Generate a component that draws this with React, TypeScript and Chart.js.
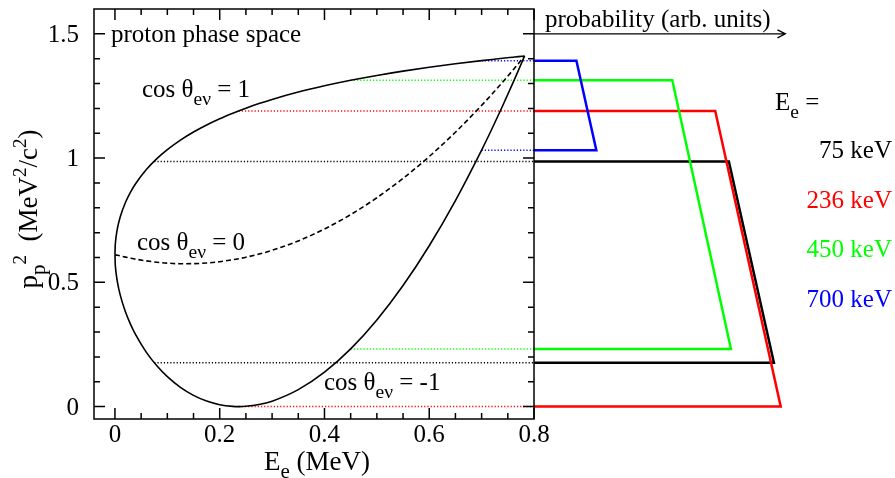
import React, { useEffect, useRef } from 'react';
import { Chart, registerables } from 'chart.js';

Chart.register(...registerables);

// Electron kinetic energy E_e (MeV) sampled along the phase-space boundary
const electronEnergy = [0, 0.0005, 0.001, 0.002, 0.005, 0.01, 0.02, 0.03, 0.04, 0.06, 0.08, 0.1, 0.125, 0.15, 0.175, 0.2, 0.225, 0.236, 0.25, 0.275, 0.3, 0.35, 0.4, 0.45, 0.5, 0.55, 0.6, 0.65, 0.7, 0.72, 0.74, 0.76, 0.77, 0.782];
// p_p^2 (MeV^2/c^2) for cos θ_eν = 1
const p2CosPlus = [0.6115, 0.6466, 0.6609, 0.681, 0.7202, 0.7632, 0.8215, 0.8643, 0.8989, 0.9541, 0.9978, 1.0342, 1.0726, 1.1052, 1.1335, 1.1586, 1.1809, 1.19, 1.201, 1.2193, 1.236, 1.2656, 1.2909, 1.313, 1.3325, 1.3499, 1.3654, 1.3794, 1.3922, 1.397, 1.4016, 1.406, 1.4082, 1.4107];
// p_p^2 for cos θ_eν = -1
const p2CosMinus = [0.6115, 0.5759, 0.561, 0.5399, 0.4975, 0.4494, 0.3815, 0.3299, 0.2872, 0.2183, 0.1641, 0.1204, 0.0775, 0.0452, 0.0223, 0.0077, 0.0008, 0.0, 0.001, 0.0081, 0.0218, 0.0681, 0.1385, 0.2322, 0.3485, 0.487, 0.6472, 0.829, 1.0321, 1.1192, 1.2097, 1.3036, 1.3518, 1.4107];
// p_p^2 for cos θ_eν = 0
const p2CosZero = [0.6115, 0.6113, 0.611, 0.6104, 0.6089, 0.6063, 0.6015, 0.5971, 0.593, 0.5862, 0.581, 0.5773, 0.575, 0.5752, 0.5779, 0.5831, 0.5908, 0.595, 0.601, 0.6137, 0.6289, 0.6668, 0.7147, 0.7726, 0.8405, 0.9184, 1.0063, 1.1042, 1.2121, 1.2581, 1.3056, 1.3548, 1.38, 1.4107];

// Selected electron energies and the p_p^2 range they span
const selectedE = [0.075, 0.236, 0.45, 0.7];
const levelTop = [0.986, 1.19, 1.313, 1.392];
const levelBottom = [0.176, 0.0, 0.232, 1.032];
// Probability distributions (drawn to the right of the frame, in E_e axis units)
const probTopEnd = [1.172, 1.146, 1.064, 0.881];
const probBottomEnd = [1.258, 1.271, 1.176, 0.919];
const seriesColors = ['#000000', '#ff0000', '#00ff00', '#0000ff'];
const energyLabels = ['75 keV', '236 keV', '450 keV', '700 keV'];

const xMajorTicks = [0, 0.2, 0.4, 0.6, 0.8];
const xTickLabels = ['0', '0.2', '0.4', '0.6', '0.8'];
const yMajorTicks = [0, 0.5, 1, 1.5];
const yTickLabels = ['0', '0.5', '1', '1.5'];
const xMinorStep = 0.05;
const yMinorStep = 0.1;

const FONT = '"Liberation Serif", "Times New Roman", serif';

type Seg = [string, 'n' | 'sub' | 'sup'];

function drawRich(ctx: CanvasRenderingContext2D, x: number, y: number, segs: Seg[], size: number, align: 'left' | 'right' | 'center', color: string) {
  const subSize = size * 0.78;
  const supSize = size * 0.7;
  const widths = segs.map(([t, k]) => {
    ctx.font = `${k === 'n' ? size : k === 'sub' ? subSize : supSize}px ${FONT}`;
    return ctx.measureText(t).width;
  });
  const total = widths.reduce((a, b) => a + b, 0);
  let cx = align === 'left' ? x : align === 'right' ? x - total : x - total / 2;
  ctx.fillStyle = color;
  ctx.textAlign = 'left';
  ctx.textBaseline = 'alphabetic';
  segs.forEach(([t, k], i) => {
    ctx.font = `${k === 'n' ? size : k === 'sub' ? subSize : supSize}px ${FONT}`;
    const dy = k === 'sub' ? size * 0.3 : k === 'sup' ? -size * 0.42 : 0;
    ctx.fillText(t, cx, y + dy);
    cx += widths[i];
  });
}

const framePlugin = {
  id: 'framePlugin',
  afterDraw(chart: any) {
    const ctx: CanvasRenderingContext2D = chart.ctx;
    const { left, right, top, bottom } = chart.chartArea;
    const xs = chart.scales.x;
    const ys = chart.scales.y;
    ctx.save();
    ctx.strokeStyle = '#000';
    ctx.lineWidth = 1.5;
    ctx.strokeRect(left, top, right - left, bottom - top);

    const isMajor = (v: number, list: number[]) => list.some((m) => Math.abs(m - v) < 1e-6);
    ctx.beginPath();
    for (let v = 0; v <= 0.8 + 1e-9; v += xMinorStep) {
      const px = xs.getPixelForValue(v);
      const len = isMajor(v, xMajorTicks) ? 11 : 6;
      ctx.moveTo(px, bottom);
      ctx.lineTo(px, bottom - len);
      ctx.moveTo(px, top);
      ctx.lineTo(px, top + len);
    }
    for (let v = 0; v <= 1.5 + 1e-9; v += yMinorStep) {
      const py = ys.getPixelForValue(v);
      const len = isMajor(v, yMajorTicks) ? 11 : 6;
      ctx.moveTo(left, py);
      ctx.lineTo(left + len, py);
      ctx.moveTo(right, py);
      ctx.lineTo(right - len, py);
    }
    ctx.stroke();

    // tick labels
    ctx.fillStyle = '#000';
    ctx.font = `25px ${FONT}`;
    ctx.textBaseline = 'alphabetic';
    ctx.textAlign = 'center';
    xMajorTicks.forEach((v, i) => ctx.fillText(xTickLabels[i], xs.getPixelForValue(v), bottom + 23));
    ctx.textAlign = 'right';
    yMajorTicks.forEach((v, i) => ctx.fillText(yTickLabels[i], left - 15, ys.getPixelForValue(v) + 8));

    // axis titles
    drawRich(ctx, 264, 470, [['E', 'n'], ['e', 'sub'], [' (MeV)', 'n']], 27, 'left', '#000');
    ctx.save();
    ctx.translate(37, 209);
    ctx.rotate(-Math.PI / 2);
    drawRich(ctx, 0, 0, [['p', 'n'], ['p', 'sub'], ['2', 'sup'], ['  (MeV', 'n'], ['2', 'sup'], ['/c', 'n'], ['2', 'sup'], [')', 'n']], 27, 'center', '#000');
    ctx.restore();

    // annotations
    drawRich(ctx, 111, 42, [['proton phase space', 'n']], 25, 'left', '#000');
    drawRich(ctx, 142, 97, [['cos θ', 'n'], ['eν', 'sub'], [' = 1', 'n']], 25, 'left', '#000');
    drawRich(ctx, 137, 250, [['cos θ', 'n'], ['eν', 'sub'], [' = 0', 'n']], 25, 'left', '#000');
    drawRich(ctx, 324, 390, [['cos θ', 'n'], ['eν', 'sub'], [' = -1', 'n']], 25, 'left', '#000');

    // probability arrow
    const ay = ys.getPixelForValue(1.5);
    const ax = xs.getPixelForValue(1.28);
    ctx.strokeStyle = '#000';
    ctx.lineWidth = 1.2;
    ctx.beginPath();
    ctx.moveTo(right, ay);
    ctx.lineTo(ax, ay);
    ctx.moveTo(ax - 8, ay - 4);
    ctx.lineTo(ax, ay);
    ctx.lineTo(ax - 8, ay + 4);
    ctx.stroke();
    drawRich(ctx, 545, 27, [['probability (arb. units)', 'n']], 25, 'left', '#000');

    // energy legend
    drawRich(ctx, 775, 110, [['E', 'n'], ['e', 'sub'], [' =', 'n']], 25, 'left', '#000');
    energyLabels.forEach((t, i) => drawRich(ctx, 892, 158 + i * 49.7, [[t, 'n']], 25, 'right', seriesColors[i]));
    ctx.restore();
  },
};

export default function App() {
  const ref = useRef<HTMLCanvasElement>(null);
  useEffect(() => {
    if (!ref.current) return;
    const curve = (ys: number[]) => electronEnergy.map((x, i) => ({ x, y: ys[i] }));
    const datasets: any[] = [];
    datasets.push({ data: curve(p2CosPlus), borderColor: '#000', borderWidth: 1.6, cubicInterpolationMode: 'monotone' });
    datasets.push({ data: curve(p2CosMinus), borderColor: '#000', borderWidth: 1.6, cubicInterpolationMode: 'monotone' });
    datasets.push({ data: curve(p2CosZero), borderColor: '#000', borderWidth: 1.6, borderDash: [5, 3], cubicInterpolationMode: 'monotone' });
    // probability trapezoids (blue on top)
    for (let i = seriesColors.length - 1; i >= 0; i--) {
      datasets.push({
        data: [
          { x: 0.8, y: levelTop[i] },
          { x: probTopEnd[i], y: levelTop[i] },
          { x: probBottomEnd[i], y: levelBottom[i] },
          { x: 0.8, y: levelBottom[i] },
        ],
        borderColor: seriesColors[i],
        borderWidth: 2.5,
        borderJoinStyle: 'miter',
        clip: false,
      });
    }
    // dotted guide lines
    selectedE.forEach((e, i) => {
      [levelTop[i], levelBottom[i]].forEach((lv) => {
        datasets.push({
          data: [{ x: e, y: lv }, { x: 0.8, y: lv }],
          borderColor: seriesColors[i],
          borderWidth: 1.5,
          borderDash: [1.2, 2],
        });
      });
    });
    datasets.forEach((d) => { d.showLine = true; d.pointRadius = 0; d.fill = false; });

    const chart = new Chart(ref.current, {
      type: 'scatter',
      data: { datasets },
      options: {
        responsive: false,
        animation: false,
        devicePixelRatio: 1,
        layout: { padding: { left: 94, right: 361, top: 9, bottom: 59 } },
        plugins: { legend: { display: false }, tooltip: { enabled: false } },
        scales: {
          x: { type: 'linear', min: -0.04, max: 0.8, display: false },
          y: { type: 'linear', min: -0.05, max: 1.6, display: false },
        },
      },
      plugins: [framePlugin],
    } as any);
    return () => chart.destroy();
  }, []);
  return (
    <div style={{ position: 'fixed', left: 0, top: 0, width: 895, height: 478, background: '#fff' }}>
      <canvas ref={ref} width={895} height={478} style={{ width: 895, height: 478 }} />
    </div>
  );
}
